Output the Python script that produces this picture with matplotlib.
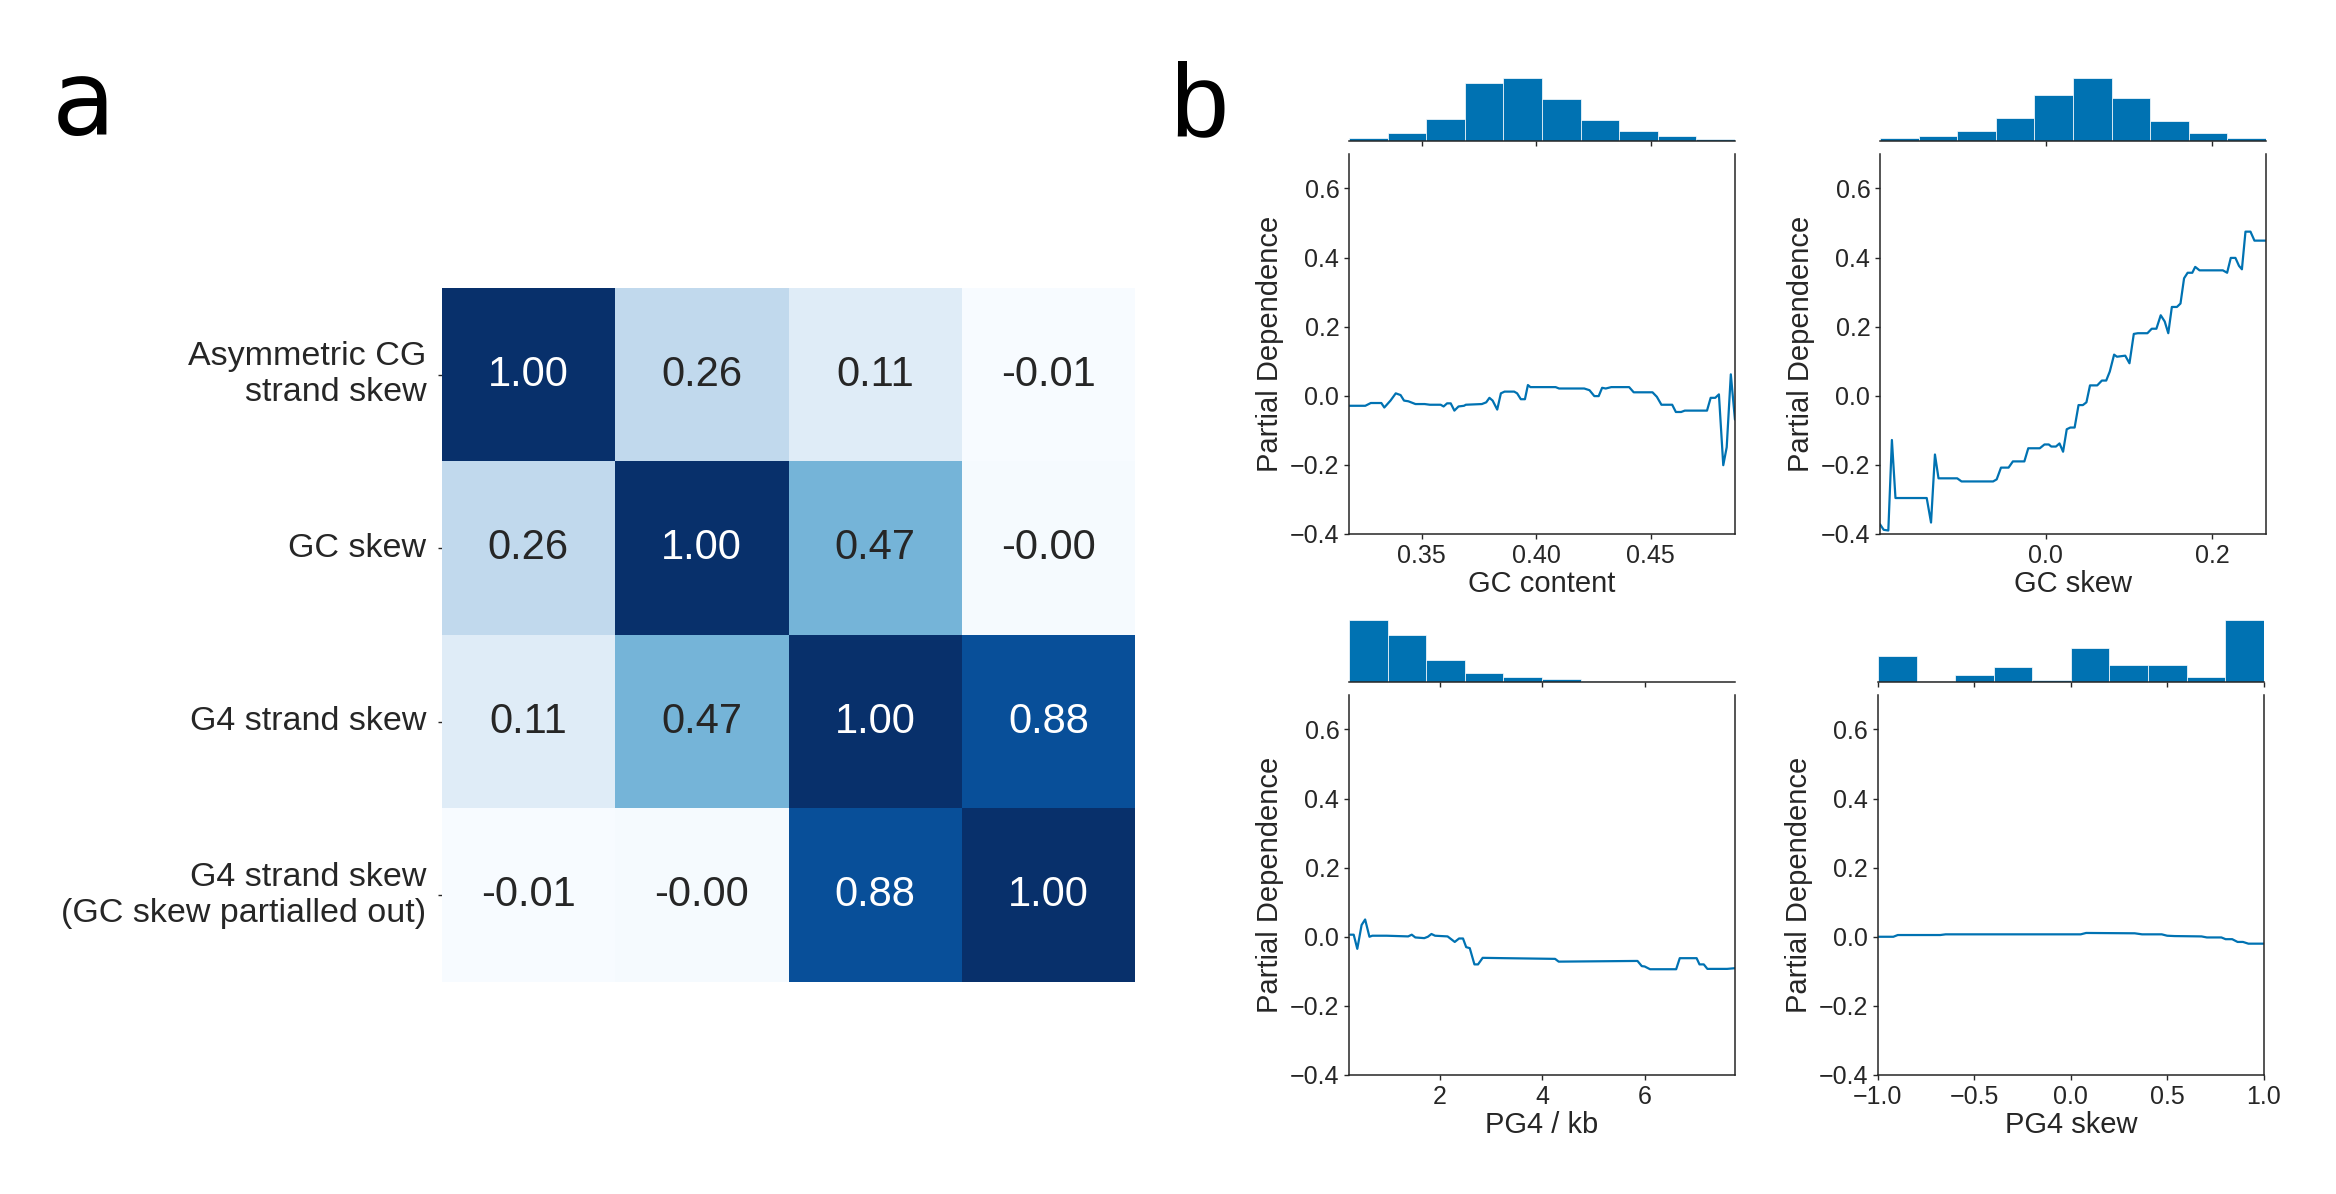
import matplotlib
matplotlib.use("Agg")
import matplotlib.pyplot as plt
import numpy as np
import seaborn as sns

sns.set_style("ticks")
plt.rcParams["font.family"] = ["Liberation Sans", "DejaVu Sans"]
plt.rcParams["text.color"] = ".15"
plt.rcParams["axes.labelcolor"] = ".15"
plt.rcParams["xtick.color"] = ".15"
plt.rcParams["ytick.color"] = ".15"
plt.rcParams["axes.edgecolor"] = ".15"

# --- panel a: correlation matrix ---
corr_labels = [
    "Asymmetric CG\nstrand skew",
    "GC skew",
    "G4 strand skew",
    "G4 strand skew\n(GC skew partialled out)",
]
corr_values = np.array([
    [1.00, 0.26, 0.11, -0.01],
    [0.26, 1.00, 0.47, -0.00],
    [0.11, 0.47, 1.00, 0.88],
    [-0.01, -0.00, 0.88, 1.00],
])

# --- panel b: partial dependence ---
gc_content_x = [0.3183, 0.3254, 0.3278, 0.3324, 0.3337, 0.3364, 0.3387, 0.3408, 0.3423, 0.3442,
                0.3473, 0.3513, 0.3536, 0.3583, 0.3596, 0.3611, 0.3627, 0.3643, 0.3661, 0.3685,
                0.3693, 0.3763, 0.3782, 0.3796, 0.3810, 0.3830, 0.3846, 0.3862, 0.3904, 0.3917,
                0.3933, 0.3951, 0.3964, 0.3975, 0.4085, 0.4100, 0.4210, 0.4233, 0.4254, 0.4273,
                0.4288, 0.4304, 0.4328, 0.4406, 0.4426, 0.4508, 0.4527, 0.4547, 0.4594, 0.4610,
                0.4633, 0.4649, 0.4746, 0.4762, 0.4782, 0.4798, 0.4817, 0.4832, 0.4850, 0.4868]
gc_content_pd = [-0.029, -0.029, -0.021, -0.021, -0.034, -0.014, 0.007, 0.002, -0.014, -0.016,
                 -0.024, -0.024, -0.026, -0.026, -0.031, -0.022, -0.022, -0.043, -0.031, -0.029,
                 -0.026, -0.024, -0.019, -0.006, -0.014, -0.040, 0.007, 0.012, 0.012, 0.007,
                 -0.010, -0.010, 0.031, 0.025, 0.025, 0.021, 0.021, 0.016, -0.001, -0.001,
                 0.023, 0.021, 0.025, 0.025, 0.010, 0.010, -0.003, -0.026, -0.026, -0.047,
                 -0.047, -0.043, -0.043, -0.006, -0.006, 0.004, -0.201, -0.149, 0.062, -0.069]
gc_content_range = (0.3183, 0.4868)
gc_content_hist = [8, 22, 60, 160, 173, 114, 56, 26, 12, 5]

gc_skew_x = [-0.1996, -0.1952, -0.1896, -0.1853, -0.1810, -0.1434, -0.1382, -0.1335, -0.1292, -0.1067,
             -0.1015, -0.0635, -0.0592, -0.0540, -0.0449, -0.0397, -0.0259, -0.0212, -0.0073, -0.0017,
             0.0035, 0.0065, 0.0121, 0.0164, 0.0207, 0.0251, 0.0294, 0.0346, 0.0393, 0.0445,
             0.0488, 0.0531, 0.0618, 0.0674, 0.0726, 0.0769, 0.0821, 0.0855, 0.0955, 0.1006,
             0.1058, 0.1106, 0.1222, 0.1274, 0.1330, 0.1382, 0.1430, 0.1473, 0.1516, 0.1577,
             0.1620, 0.1663, 0.1706, 0.1762, 0.1797, 0.1849, 0.2130, 0.2181, 0.2225, 0.2281,
             0.2324, 0.2359, 0.2402, 0.2462, 0.2510, 0.2648]
gc_skew_pd = [-0.372, -0.388, -0.390, -0.128, -0.296, -0.296, -0.367, -0.170, -0.239, -0.239,
              -0.248, -0.248, -0.242, -0.208, -0.208, -0.190, -0.190, -0.152, -0.152, -0.141,
              -0.141, -0.147, -0.147, -0.138, -0.162, -0.097, -0.092, -0.092, -0.027, -0.027,
              -0.019, 0.030, 0.030, 0.044, 0.044, 0.070, 0.119, 0.113, 0.116, 0.094,
              0.179, 0.181, 0.181, 0.194, 0.194, 0.233, 0.215, 0.181, 0.257, 0.257,
              0.267, 0.340, 0.356, 0.356, 0.373, 0.363, 0.363, 0.356, 0.399, 0.399,
              0.376, 0.366, 0.475, 0.475, 0.449, 0.449]
gc_skew_range = (-0.1996, 0.2648)
gc_skew_hist = [6, 12, 27, 62, 126, 173, 117, 53, 21, 7]

pg4_x = [0.252, 0.322, 0.392, 0.476, 0.545, 0.629, 0.685, 0.965, 1.385, 1.455,
         1.524, 1.699, 1.769, 1.839, 1.909, 2.154, 2.294, 2.378, 2.455, 2.517,
         2.587, 2.678, 2.748, 2.839, 3.273, 4.252, 4.322, 5.860, 5.944, 6.000,
         6.105, 6.615, 6.685, 7.014, 7.070, 7.154, 7.224, 7.608, 7.762]
pg4_pd = [0.006, 0.006, -0.035, 0.034, 0.050, 0.000, 0.003, 0.003, 0.001, 0.006,
          -0.002, -0.004, 0.000, 0.008, 0.003, 0.001, -0.015, -0.005, -0.005, -0.030,
          -0.033, -0.080, -0.080, -0.061, -0.062, -0.064, -0.072, -0.070, -0.085, -0.086,
          -0.094, -0.094, -0.062, -0.062, -0.080, -0.080, -0.093, -0.093, -0.091]
pg4_range = (0.231, 7.762)
pg4_hist = [173, 131, 60, 26, 13, 7, 3, 1, 0.5, 0.3]

pg4_skew_x = [-1.0, -0.920, -0.897, -0.677, -0.649, 0.051, 0.079, 0.331, 0.369, 0.471,
              0.499, 0.537, 0.677, 0.705, 0.780, 0.802, 0.836, 0.864, 0.892, 0.920, 1.0]
pg4_skew_pd = [0.000, 0.000, 0.005, 0.005, 0.007, 0.007, 0.011, 0.010, 0.007, 0.007,
               0.003, 0.002, 0.001, -0.002, -0.002, -0.007, -0.007, -0.015, -0.015, -0.020, -0.020]
pg4_skew_range = (-1.0, 1.0)
pg4_skew_hist = [71, 3, 18, 40, 5, 94, 47, 47, 15, 172]

pd_panels = [
    ("GC content", gc_content_x, gc_content_pd, gc_content_range, gc_content_hist, [0.35, 0.40, 0.45]),
    ("GC skew", gc_skew_x, gc_skew_pd, gc_skew_range, gc_skew_hist, [0.0, 0.2]),
    ("PG4 / kb", pg4_x, pg4_pd, pg4_range, pg4_hist, [2, 4, 6]),
    ("PG4 skew", pg4_skew_x, pg4_skew_pd, pg4_skew_range, pg4_skew_hist, [-1.0, -0.5, 0.0, 0.5, 1.0]),
]

blue = "#0072B2"

fig = plt.figure(figsize=(23.36, 11.94), dpi=100)

# heatmap
ax_h = fig.add_axes([0.189, 0.1776, 0.2971, 0.5812])
sns.heatmap(corr_values, ax=ax_h, cmap="Blues", annot=True, fmt=".2f", cbar=False,
            square=True, xticklabels=False, yticklabels=corr_labels,
            annot_kws={"fontsize": 30})
ax_h.tick_params(axis="y", labelsize=24.5, length=3, width=1, pad=8, rotation=0)
ax_h.tick_params(axis="x", length=0)
for lbl in ax_h.get_yticklabels():
    lbl.set_ha("right")
    lbl.set_multialignment("right")

# partial dependence panels
pd_boxes = [
    (0.5775, 0.5528),
    (0.8048, 0.5528),
    (0.5775, 0.0997),
    (0.8039, 0.0997),
]
hist_bottoms = [0.8823, 0.8823, 0.4288, 0.4288]
w, h_pd, h_hist = 0.1652, 0.3183, 0.0549

for (name, xs, ys, xr, counts, xticks), (left, bottom), hb in zip(pd_panels, pd_boxes, hist_bottoms):
    ax = fig.add_axes([left, bottom, w, h_pd])
    ax.plot(xs, ys, color=blue, lw=1.6)
    ax.set_xlim(*xr)
    ax.set_ylim(-0.4, 0.7)
    ax.set_yticks([-0.4, -0.2, 0.0, 0.2, 0.4, 0.6])
    ax.set_xticks(xticks)
    ax.spines["top"].set_visible(False)
    for s in ax.spines.values():
        s.set_linewidth(1.1)
    ax.tick_params(labelsize=18, length=3.5, width=1)
    ax.set_xlabel(name, fontsize=21, labelpad=2)
    ax.set_ylabel("Partial Dependence", fontsize=21)

    axh = fig.add_axes([left, hb, w, h_hist])
    edges = np.linspace(xr[0], xr[1], len(counts) + 1)
    axh.bar(edges[:-1], counts, width=np.diff(edges), align="edge",
            color=blue, edgecolor="white", linewidth=0.5)
    axh.set_xlim(*xr)
    axh.set_xticks(xticks)
    axh.set_xticklabels([])
    axh.set_yticks([])
    for s in ["top", "left", "right"]:
        axh.spines[s].set_visible(False)
    axh.spines["bottom"].set_linewidth(1.1)
    axh.tick_params(axis="x", length=3.5, width=1)

fig.text(0.0223, 0.887, "a", fontsize=75, family="DejaVu Sans", color="black", va="baseline")
fig.text(0.501, 0.887, "b", fontsize=75, color="black", va="baseline")

fig.savefig("out.png", dpi=100)
